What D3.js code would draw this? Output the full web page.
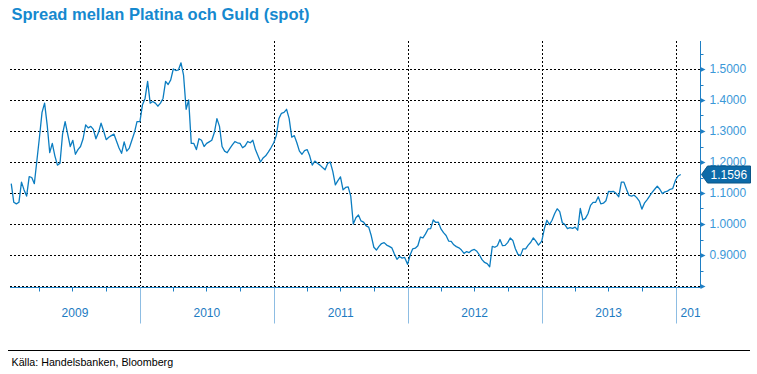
<!DOCTYPE html>
<html>
<head>
<meta charset="utf-8">
<script src="https://cdn.jsdelivr.net/npm/d3@7"></script>
<style>
  body { margin: 0; background: #fff; }
  svg { display: block; font-family: "Liberation Sans", Arial, sans-serif; }
</style>
</head>
<body>
<svg id="chart" width="757" height="374"></svg>
<script>
// weekly platina/guld spread (one array per year)
const values2009 = [1.13, 1.07, 1.065, 1.07, 1.135, 1.11, 1.09, 1.153, 1.15, 1.13,
  1.205, 1.28, 1.36, 1.39, 1.32, 1.23, 1.26, 1.22, 1.19, 1.196,
  1.29, 1.33, 1.29, 1.25, 1.27, 1.225, 1.24, 1.25, 1.275, 1.32,
  1.31, 1.315, 1.305, 1.275, 1.295, 1.325, 1.30, 1.272, 1.28, 1.285,
  1.29, 1.268, 1.245, 1.228, 1.265, 1.235, 1.245, 1.27, 1.295, 1.33];
const values2010 = [1.33, 1.385, 1.405, 1.46, 1.39, 1.395, 1.39, 1.38, 1.39, 1.405,
  1.46, 1.45, 1.465, 1.50, 1.495, 1.497, 1.52, 1.48, 1.37, 1.40,
  1.26, 1.26, 1.24, 1.275, 1.27, 1.25, 1.26, 1.265, 1.27, 1.295,
  1.34, 1.315, 1.25, 1.235, 1.23, 1.243, 1.255, 1.266, 1.262, 1.26,
  1.246, 1.252, 1.266, 1.262, 1.27, 1.24, 1.22, 1.20, 1.213, 1.22,
  1.232, 1.245];
const values2011 = [1.262, 1.285, 1.34, 1.357, 1.36, 1.37, 1.34, 1.28, 1.285, 1.262,
  1.235, 1.225, 1.237, 1.24, 1.22, 1.19, 1.203, 1.196, 1.19, 1.182,
  1.175, 1.195, 1.20, 1.17, 1.126, 1.14, 1.152, 1.11, 1.118, 1.12,
  1.09, 1.00, 1.02, 1.029, 1.01, 1.006, 0.994, 0.99, 0.962, 0.925,
  0.916, 0.928, 0.937, 0.94, 0.932, 0.928, 0.923, 0.903, 0.886, 0.895,
  0.89, 0.892];
const values2012 = [0.87, 0.90, 0.92, 0.922, 0.93, 0.958, 0.955, 0.968, 0.984, 0.985,
  1.013, 1.005, 1.006, 0.984, 0.972, 0.963, 0.945, 0.944, 0.933, 0.927,
  0.923, 0.916, 0.905, 0.911, 0.908, 0.915, 0.918, 0.912, 0.90, 0.885,
  0.876, 0.872, 0.862, 0.928, 0.925, 0.93, 0.95, 0.93, 0.931, 0.94,
  0.955, 0.947, 0.92, 0.902, 0.898, 0.92, 0.92, 0.932, 0.941, 0.955,
  0.945, 0.932];
const values2013 = [0.945, 0.985, 1.012, 0.998, 1.012, 1.033, 1.049, 1.04, 1.004, 0.998,
  0.985, 0.988, 0.986, 0.99, 0.98, 1.05, 1.013, 1.018, 1.033, 1.06,
  1.07, 1.07, 1.088, 1.065, 1.067, 1.075, 1.105, 1.104, 1.105, 1.098,
  1.088, 1.135, 1.135, 1.112, 1.092, 1.09, 1.093, 1.085, 1.074, 1.048,
  1.067, 1.078, 1.09, 1.102, 1.112, 1.122, 1.112, 1.098, 1.104, 1.106,
  1.112, 1.114];
const values2014 = [1.142, 1.155, 1.1596];

const years = [2009, 2010, 2011, 2012, 2013, 2014];
const firstWeek = [2, 0, 0, 0, 0, 0];   // 2009 starts mid January
const yearValues = [values2009, values2010, values2011, values2012, values2013, values2014];
const yTicks = [0.9, 1.0, 1.1, 1.2, 1.3, 1.4, 1.5];
const yMinor = [0.85, 0.95, 1.05, 1.15, 1.25, 1.35, 1.45, 1.55];
const lastValue = 1.1596;

const title = 'Spread mellan Platina och Guld (spot)';
const source = 'Källa: Handelsbanken, Bloomberg';

// build dated series
const data = [];
years.forEach((yr, i) => {
  yearValues[i].forEach((v, k) => {
    data.push({date: d3.timeDay.offset(new Date(yr, 0, 1), 7 * (k + firstWeek[i])), value: v});
  });
});

const blue = '#1f7fc4';
const labelBlue = '#3b98d8';
const svg = d3.select('#chart');
const plot = {left: 10, right: 700.5, top: 41, bottom: 286};

const x = d3.scaleTime()
  .domain([new Date(2009, 0, 1), new Date(2014, 0, 1)])
  .range([6.1, 675.6]);
const y = d3.scaleLinear()
  .domain([0.8, 1.5])
  .range([286, 69]);
const crisp = v => Math.round(v) + 0.5;

// title
svg.append('text')
  .attr('x', 11.5).attr('y', 20)
  .attr('font-size', 16.5).attr('font-weight', 'bold')
  .attr('fill', '#1689cf')
  .text(title);

// horizontal grid
svg.append('g')
  .selectAll('line')
  .data([0.8].concat(yTicks))
  .join('line')
  .attr('x1', plot.left).attr('x2', plot.right)
  .attr('y1', d => crisp(y(d) - 0.5)).attr('y2', d => crisp(y(d) - 0.5))
  .attr('stroke', '#000').attr('stroke-dasharray', '2,2');

// vertical grid at year starts
const yearStarts = years.slice(1).map(yr => new Date(yr, 0, 1));
svg.append('g')
  .selectAll('line')
  .data(yearStarts)
  .join('line')
  .attr('x1', d => crisp(x(d))).attr('x2', d => crisp(x(d)))
  .attr('y1', plot.top).attr('y2', plot.bottom)
  .attr('stroke', '#000').attr('stroke-dasharray', '2,2');

// line
svg.append('path')
  .datum(data)
  .attr('d', d3.line().x(d => x(d.date)).y(d => y(d.value)))
  .attr('fill', 'none')
  .attr('stroke', '#0b7dc1')
  .attr('stroke-width', 1.3)
  .attr('stroke-linejoin', 'round');

// bottom axis: quarter ticks + long year separators
const xDomainVisible = [x.invert(plot.left), x.invert(plot.right)];
const quarters = d3.timeMonth.every(3).range(xDomainVisible[0], xDomainVisible[1])
  .filter(d => d.getMonth() !== 0);
const xAxis = svg.append('g').attr('transform', `translate(0,${plot.bottom + 1.5})`);
xAxis.append('line')
  .attr('x1', plot.left).attr('x2', plot.right)
  .attr('stroke', blue);
xAxis.selectAll('line.q')
  .data(quarters)
  .join('line').attr('class', 'q')
  .attr('x1', d => crisp(x(d))).attr('x2', d => crisp(x(d)))
  .attr('y1', 0).attr('y2', 4)
  .attr('stroke', blue);
xAxis.selectAll('line.yr')
  .data(yearStarts)
  .join('line').attr('class', 'yr')
  .attr('x1', d => crisp(x(d))).attr('x2', d => crisp(x(d)))
  .attr('y1', 0).attr('y2', 36)
  .attr('stroke', '#8dbde3');

// year labels
svg.append('clipPath').attr('id', 'yrclip')
  .append('rect').attr('x', 0).attr('y', 290).attr('width', plot.right).attr('height', 40);
svg.append('g').attr('clip-path', 'url(#yrclip)')
  .selectAll('text')
  .data(years)
  .join('text')
  .attr('x', yr => {
    const a = Math.max(x(new Date(yr, 0, 1)), plot.left);
    const b = x(new Date(yr + 1, 0, 1));
    return yr === 2014 ? a + 5 : (a + b) / 2;
  })
  .attr('text-anchor', yr => yr === 2014 ? 'start' : 'middle')
  .attr('y', 317)
  .attr('font-size', 12)
  .attr('fill', '#1d7bc2')
  .text(yr => yr);

// right axis
const yAxis = d3.axisRight(y)
  .tickValues(yTicks)
  .tickSize(0)
  .tickPadding(9)
  .tickFormat(d3.format('.4f'));
const ya = svg.append('g')
  .attr('transform', `translate(${plot.right},0)`)
  .call(yAxis);
ya.select('.domain').remove();
ya.selectAll('text').attr('font-size', 12).attr('fill', labelBlue)
  .attr('font-family', '"Liberation Sans", Arial, sans-serif');
ya.append('line')
  .attr('y1', plot.top).attr('y2', plot.bottom + 1.5)
  .attr('stroke', blue);
ya.selectAll('path.tri')
  .data([0.8].concat(yTicks))
  .join('path').attr('class', 'tri')
  .attr('transform', d => `translate(0,${crisp(y(d) - 0.5)})`)
  .attr('d', 'M0,-2.5L5,0L0,2.5Z')
  .attr('fill', blue);
ya.selectAll('line.minor')
  .data(yMinor)
  .join('line').attr('class', 'minor')
  .attr('x1', 0).attr('x2', 3)
  .attr('y1', d => crisp(y(d))).attr('y2', d => crisp(y(d)))
  .attr('stroke', blue);

// last value callout
const cy = y(lastValue);
const callout = svg.append('g').attr('transform', `translate(${plot.right + 1},${cy})`);
callout.append('path')
  .attr('d', 'M0,0L6,-8.5H49V8.5H6Z')
  .attr('fill', '#0d6aa8')
  .attr('stroke', '#0a5588');
callout.append('text')
  .attr('x', 9).attr('y', 4.5)
  .attr('font-size', 12)
  .attr('fill', '#fff')
  .text(d3.format('.4f')(lastValue));

// footer
svg.append('line')
  .attr('x1', 8).attr('x2', 750)
  .attr('y1', 350.5).attr('y2', 350.5)
  .attr('stroke', '#000');
svg.append('text')
  .attr('x', 11.5).attr('y', 366)
  .attr('font-size', 10.7)
  .attr('fill', '#000')
  .text(source);
</script>
</body>
</html>
